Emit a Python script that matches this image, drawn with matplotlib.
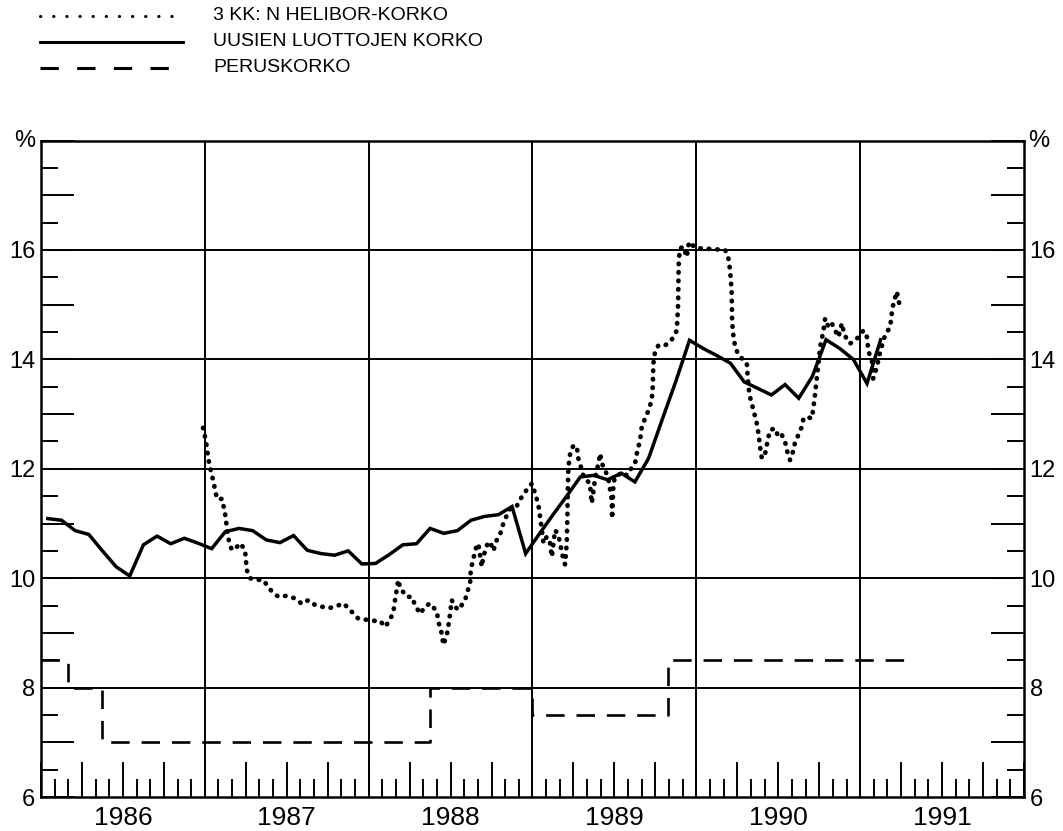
import matplotlib.pyplot as plt
import matplotlib.transforms as mtransforms
import numpy as np

plt.rcParams['font.family'] = ['Liberation Sans', 'DejaVu Sans']

# --- data -------------------------------------------------------------
# 3 kk:n Helibor (decimal year, %)
helibor_t = [1986.989, 1987.007, 1987.026, 1987.050, 1987.074, 1987.105, 1987.123,
             1987.134, 1987.143, 1987.164, 1987.184, 1987.215, 1987.245, 1987.256,
             1987.276, 1987.306, 1987.355, 1987.386, 1987.408, 1987.449, 1987.500,
             1987.551, 1987.592, 1987.632, 1987.673, 1987.714, 1987.754, 1987.805,
             1987.846, 1987.886, 1987.937, 1987.988, 1988.039, 1988.070, 1988.100,
             1988.131, 1988.151, 1988.161, 1988.181, 1988.192, 1988.233, 1988.263,
             1988.283, 1988.314, 1988.344, 1988.375, 1988.416, 1988.426, 1988.446,
             1988.456, 1988.477, 1988.487, 1988.497, 1988.507, 1988.527, 1988.548,
             1988.568, 1988.589, 1988.599, 1988.619, 1988.623, 1988.639, 1988.660,
             1988.670, 1988.690, 1988.700, 1988.721, 1988.741, 1988.761, 1988.782,
             1988.802, 1988.822, 1988.843, 1988.863, 1988.904, 1988.935, 1988.961,
             1988.996, 1989.016, 1989.036, 1989.046, 1989.057, 1989.067, 1989.087,
             1989.107, 1989.118, 1989.138, 1989.158, 1989.168, 1989.189, 1989.199,
             1989.209, 1989.213, 1989.215, 1989.219, 1989.230, 1989.250, 1989.270,
             1989.280, 1989.301, 1989.311, 1989.327, 1989.352, 1989.355, 1989.362,
             1989.382, 1989.402, 1989.413, 1989.423, 1989.443, 1989.463, 1989.474,
             1989.484, 1989.486, 1989.494, 1989.504, 1989.524, 1989.545, 1989.576,
             1989.596, 1989.626, 1989.637, 1989.657, 1989.667, 1989.687, 1989.708,
             1989.728, 1989.734, 1989.738, 1989.748, 1989.769, 1989.810, 1989.840,
             1989.860, 1989.881, 1989.889, 1989.891, 1989.893, 1989.901, 1989.921,
             1989.942, 1989.952, 1989.972, 1989.982, 1990.023, 1990.084, 1990.176,
             1990.196, 1990.206, 1990.215, 1990.217, 1990.219, 1990.227, 1990.237,
             1990.257, 1990.288, 1990.308, 1990.318, 1990.328, 1990.349, 1990.369,
             1990.379, 1990.389, 1990.400, 1990.420, 1990.440, 1990.451, 1990.481,
             1990.501, 1990.522, 1990.542, 1990.552, 1990.572, 1990.593, 1990.603,
             1990.623, 1990.644, 1990.654, 1990.675, 1990.705, 1990.715, 1990.725,
             1990.736, 1990.745, 1990.756, 1990.776, 1990.786, 1990.806, 1990.827,
             1990.847, 1990.868, 1990.888, 1990.898, 1990.919, 1990.939, 1990.969,
             1990.990, 1991.020, 1991.041, 1991.051, 1991.071, 1991.079, 1991.102,
             1991.122, 1991.153, 1991.183, 1991.193, 1991.203, 1991.224, 1991.232,
             1991.244]
helibor_v = [12.75, 12.50, 12.10, 11.80, 11.45, 11.45, 11.19,
             10.94, 10.73, 10.52, 10.53, 10.64, 10.52, 10.15,
             10.00, 9.97, 9.97, 9.85, 9.76, 9.66, 9.68,
             9.63, 9.53, 9.60, 9.51, 9.48, 9.45, 9.49,
             9.54, 9.42, 9.26, 9.24, 9.22, 9.22, 9.11,
             9.24, 9.39, 9.60, 9.97, 9.82, 9.66, 9.66,
             9.51, 9.35, 9.48, 9.54, 9.39, 9.20, 8.99,
             8.78, 8.96, 9.14, 9.35, 9.60, 9.48, 9.42,
             9.51, 9.60, 9.72, 9.90, 10.15, 10.36, 10.61,
             10.63, 10.21, 10.39, 10.60, 10.67, 10.50, 10.70,
             10.80, 11.00, 11.15, 11.27, 11.32, 11.49, 11.60,
             11.73, 11.55, 11.34, 11.12, 10.88, 10.64, 10.76,
             10.64, 10.39, 10.88, 10.79, 10.64, 10.33, 10.25,
             10.64, 11.12, 11.55, 12.03, 12.28, 12.43, 12.40,
             12.19, 11.98, 11.86, 11.80, 11.73, 11.55, 11.37,
             11.82, 12.10, 12.28, 12.10, 11.98, 11.82, 11.61,
             11.43, 11.09, 11.73, 11.85, 11.88, 11.94, 11.88,
             11.98, 12.10, 12.28, 12.53, 12.77, 12.92, 13.07,
             13.26, 13.50, 13.93, 14.14, 14.26, 14.26, 14.32,
             14.41, 14.53, 15.02, 15.51, 15.82, 16.03, 16.06,
             15.87, 16.09, 16.15, 16.06, 16.03, 16.02, 16.00,
             15.84, 15.63, 15.27, 14.96, 14.66, 14.41, 14.23,
             14.08, 13.99, 13.93, 13.50, 13.31, 13.07, 12.83,
             12.65, 12.40, 12.19, 12.28, 12.58, 12.71, 12.74,
             12.58, 12.62, 12.49, 12.34, 12.16, 12.34, 12.49,
             12.62, 12.77, 12.92, 12.95, 12.92, 13.13, 13.37,
             13.68, 13.93, 14.23, 14.53, 14.75, 14.59, 14.66,
             14.53, 14.41, 14.66, 14.53, 14.35, 14.29, 14.35,
             14.41, 14.53, 14.41, 14.14, 13.99, 13.65, 13.86,
             14.14, 14.45, 14.59, 14.84, 15.02, 15.24, 15.10,
             14.96]

# uusien luottojen korko, monthly Jan 1986 - Feb 1991
new_loans = [11.09, 11.06, 10.87, 10.80, 10.50, 10.21, 10.04, 10.61, 10.77, 10.63, 10.73, 10.64,
             10.54, 10.85, 10.91, 10.87, 10.70, 10.65, 10.78, 10.51, 10.45, 10.42, 10.50, 10.26,
             10.27, 10.43, 10.61, 10.63, 10.91, 10.82, 10.87, 11.06, 11.13, 11.16, 11.31, 10.45,
             10.81, 11.16, 11.50, 11.85, 11.88, 11.80, 11.92, 11.76, 12.19, 12.90, 13.60, 14.35,
             14.20, 14.07, 13.93, 13.59, 13.47, 13.35, 13.54, 13.29, 13.69, 14.36, 14.20, 14.00,
             13.56, 14.36]

# peruskorko, step changes
base_t = [1986.0, 1986.165, 1986.372, 1988.375, 1989.0, 1989.828, 1991.275]
base_v = [8.5, 8.0, 7.0, 8.0, 7.5, 8.5, 8.5]

years = [1986, 1987, 1988, 1989, 1990, 1991]
legend_labels = ["3 KK: N HELIBOR-KORKO", "UUSIEN LUOTTOJEN KORKO", "PERUSKORKO"]

# --- figure -----------------------------------------------------------
fig = plt.figure(figsize=(10.63, 8.31), dpi=100)
ax = fig.add_axes([41 / 1063, 34 / 831, 983 / 1063, 656.4 / 831])
ax.set_xlim(1986, 1992)
ax.set_ylim(6, 18)

loan_t = 1986 + (np.arange(len(new_loans)) + 0.5) / 12

# grid
for y in [8, 10, 12, 14, 16]:
    ax.axhline(y, color="black", lw=1.4, zorder=1)
for yr in years[1:]:
    ax.axvline(yr, color="black", lw=1.4, zorder=1)

ax.plot(helibor_t, helibor_v, color="black", lw=3.4,
        linestyle=(0, (0.1, 1.7)), dash_capstyle="round", zorder=3)
ax.plot(loan_t, new_loans, color="black", lw=2.5, solid_joinstyle="miter", zorder=3)
ax.step(base_t, base_v, where="post", color="black", lw=1.9,
        linestyle=(0, (7, 4.5)), zorder=3)

# ticks
for s in ax.spines.values():
    s.set_linewidth(1.8)
ax.set_yticks(np.arange(6, 18.1, 1.0))
ax.set_yticks(np.arange(6, 18.1, 0.5), minor=True)
ax.set_yticklabels([str(int(v)) if int(v) % 2 == 0 and v < 18 else "" for v in np.arange(6, 18.1, 1.0)])
ax.set_xticks(np.arange(1986, 1992.01, 0.25))
ax.set_xticks(np.arange(1986, 1992.01, 1 / 12), minor=True)
ax.set_xticklabels([])
ax.tick_params(axis="y", which="major", direction="in", length=24, width=1.4,
               left=True, right=True, labelleft=True, labelright=True,
               labelsize=17, pad=4)
ax.tick_params(axis="y", which="minor", direction="in", length=12, width=1.4,
               left=True, right=True)
ax.tick_params(axis="x", which="major", direction="in", length=25, width=1.4,
               top=False, bottom=True)
ax.tick_params(axis="x", which="minor", direction="in", length=13, width=1.4,
               top=False, bottom=True)

for yr in years:
    ax.annotate(str(yr), xy=(yr + 0.5, 6), xytext=(0, -20.5), textcoords="offset points",
                ha="center", va="baseline", fontsize=19)

blend = mtransforms.blended_transform_factory(ax.transAxes, ax.transData)
ax.text(-0.006, 18.0, "%", transform=blend, ha="right", va="center", fontsize=17)
ax.text(1.004, 18.0, "%", transform=blend, ha="left", va="center", fontsize=17)

# legend drawn by hand
ly = [1 - 16 / 831, 1 - 42 / 831, 1 - 68 / 831]
lx = [40 / 1063, 183 / 1063]
fig.add_artist(plt.Line2D(lx, [ly[0]] * 2, color="black", lw=2.2,
                          linestyle=(0, (0.1, 4.2)), dash_capstyle="round"))
fig.add_artist(plt.Line2D(lx, [ly[1]] * 2, color="black", lw=2.2))
fig.add_artist(plt.Line2D(lx, [ly[2]] * 2, color="black", lw=2.2, linestyle=(0, (6, 6))))
for yy, lab in zip(ly, legend_labels):
    fig.text(213 / 1063, yy, lab, ha="left", va="center", fontsize=14)

fig.savefig("out.png", dpi=100)
